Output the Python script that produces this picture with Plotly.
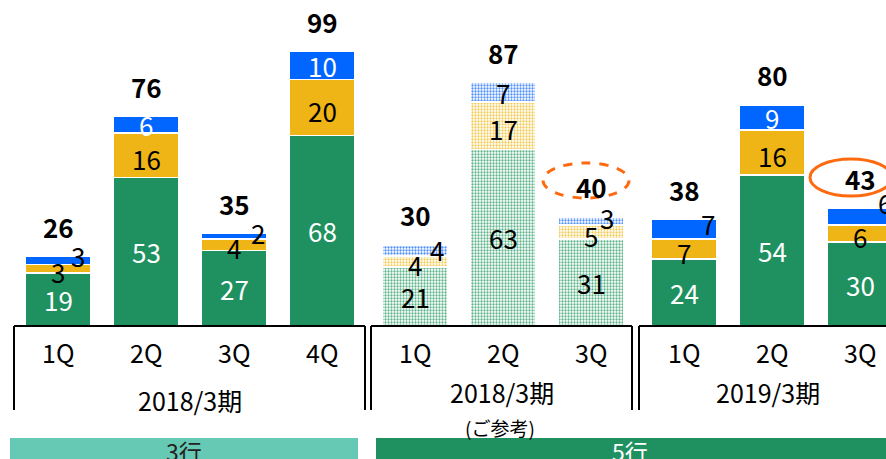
import plotly.graph_objects as go

# ---------------- data ----------------
quarters = ["1Q", "2Q", "3Q", "4Q", "1Q", "2Q", "3Q", "1Q", "2Q", "3Q"]
group_of_bar = [0, 0, 0, 0, 1, 1, 1, 2, 2, 2]
group_labels = ["2018/3期", "2018/3期", "2019/3期"]
green = [19, 53, 27, 68, 21, 63, 31, 24, 54, 30]
yellow = [3, 16, 4, 20, 4, 17, 5, 7, 16, 6]
blue = [3, 6, 2, 10, 4, 7, 3, 7, 9, 6]
totals = [26, 76, 35, 99, 30, 87, 40, 38, 80, 43]
hatched = [False, False, False, False, True, True, True, False, False, False]
band_labels = ["3行", "5行"]
note_label = "(ご参考)"

# ---------------- styles ----------------
W, H = 886, 459
BASE = 326          # pixel row of value 0
PPU = 2.8           # pixels per unit
GREEN, YELLOW, BLUE = "#1F9160", "#EFB415", "#0066FF"
GREEN_M, YELLOW_M, BLUE_M = "#5FB48B", "#F4CB57", "#4F90FF"
DOT = "#F4FBF7"
FONT = "Noto Sans CJK JP, sans-serif"

xpos = [58 + 88 * i + 5 * g for i, g in enumerate(group_of_bar)]

def ypaper(py):
    return 1 - py / H

fig = go.Figure()

def add_series(vals, solid, mid, name):
    fig.add_trace(go.Bar(
        x=xpos, y=vals, width=66, name=name,
        marker=dict(
            color=[mid if h else solid for h in hatched],
            line=dict(color="white", width=1.5),
            pattern=dict(shape=["." if h else "" for h in hatched],
                         fgcolor=[DOT] * len(hatched),
                         bgcolor=[mid if h else solid for h in hatched],
                         fillmode="replace",
                         size=3, solidity=0.45),
        ),
        hoverinfo="skip",
    ))

add_series(green, GREEN, GREEN_M, "green")
add_series(yellow, YELLOW, YELLOW_M, "yellow")
add_series(blue, BLUE, BLUE_M, "blue")

ann = []
blue_color = ["black", "white", "black", "white", "black", "black", "black", "black", "white", "black"]
blue_dx = [20, 0, 24, 0, 22, 0, 16, 24, 0, 25]
blue_dy = [5, 0, 4, 0, 1, 0, 4, 6, 0, 14]
for i in range(len(xpos)):
    g, yv, b = green[i], yellow[i], blue[i]
    ann.append(dict(x=xpos[i], y=g / 2, text=str(g), showarrow=False, yanchor="middle",
                    font=dict(family=FONT, size=26, color="black" if hatched[i] else "white")))
    ann.append(dict(x=xpos[i], y=g + yv / 2, text=str(yv), showarrow=False, yshift=-3,
                    yanchor="middle", font=dict(family=FONT, size=26, color="black")))
    ann.append(dict(x=xpos[i], y=g + yv + b / 2, text=str(b), showarrow=False,
                    xshift=blue_dx[i], yshift=blue_dy[i], yanchor="middle",
                    font=dict(family=FONT, size=26, color=blue_color[i])))
    ann.append(dict(x=xpos[i], y=g + yv + b, text="<b>%d</b>" % totals[i], showarrow=False,
                    yshift=30, yanchor="middle",
                    font=dict(family=FONT, size=26, color="black")))
    ann.append(dict(x=xpos[i], y=ypaper(352), yref="paper", text=quarters[i], showarrow=False,
                    yanchor="middle", font=dict(family=FONT, size=25, color="black")))

# group boxes and labels
boxes = [(14, 365), (371, 632), (639, 892)]
shapes = []
for (x0, x1) in boxes:
    for seg in [(x0, BASE, x1, BASE), (x0, BASE, x0, 410), (x1, BASE, x1, 410)]:
        shapes.append(dict(type="line", xref="x", yref="paper",
                           x0=seg[0], x1=seg[2], y0=ypaper(seg[1]), y1=ypaper(seg[3]),
                           line=dict(color="black", width=2)))
label_pos = [(190, 400), (502, 392), (768, 392)]
for (lx, ly), lab in zip(label_pos, group_labels):
    ann.append(dict(x=lx, y=ypaper(ly), yref="paper", text=lab, showarrow=False,
                    yanchor="middle", font=dict(family=FONT, size=25, color="black")))
ann.append(dict(x=500, y=ypaper(427), yref="paper", text=note_label, showarrow=False,
                yanchor="middle", font=dict(family=FONT, size=19, color="black")))

# bottom bands
shapes.append(dict(type="rect", xref="x", yref="paper", x0=10, x1=358,
                   y0=ypaper(459), y1=ypaper(438), fillcolor="#66C9B4", line=dict(width=0)))
shapes.append(dict(type="rect", xref="x", yref="paper", x0=376, x1=886,
                   y0=ypaper(459), y1=ypaper(438), fillcolor=GREEN, line=dict(width=0)))
ann.append(dict(x=184, y=ypaper(451), yref="paper", text=band_labels[0], showarrow=False,
                yanchor="middle", font=dict(family=FONT, size=23, color="#222222")))
ann.append(dict(x=630, y=ypaper(451), yref="paper", text=band_labels[1], showarrow=False,
                yanchor="middle", font=dict(family=FONT, size=23, color="white")))

# highlight ellipses
shapes.append(dict(type="circle", xref="x", yref="paper", x0=543, x1=629,
                   y0=ypaper(198), y1=ypaper(163),
                   line=dict(color="#FF6A10", width=3, dash="dash")))
shapes.append(dict(type="circle", xref="x", yref="paper", x0=810, x1=892,
                   y0=ypaper(196), y1=ypaper(159),
                   line=dict(color="#FF6A10", width=3)))

fig.update_layout(
    width=W, height=H, margin=dict(l=0, r=0, t=0, b=0),
    barmode="stack", showlegend=False,
    plot_bgcolor="white", paper_bgcolor="white",
    xaxis=dict(range=[0, W], visible=False, fixedrange=True),
    yaxis=dict(range=[-(H - BASE) / PPU, BASE / PPU], visible=False, fixedrange=True),
    annotations=ann, shapes=shapes,
)
fig.write_html("out.html")
